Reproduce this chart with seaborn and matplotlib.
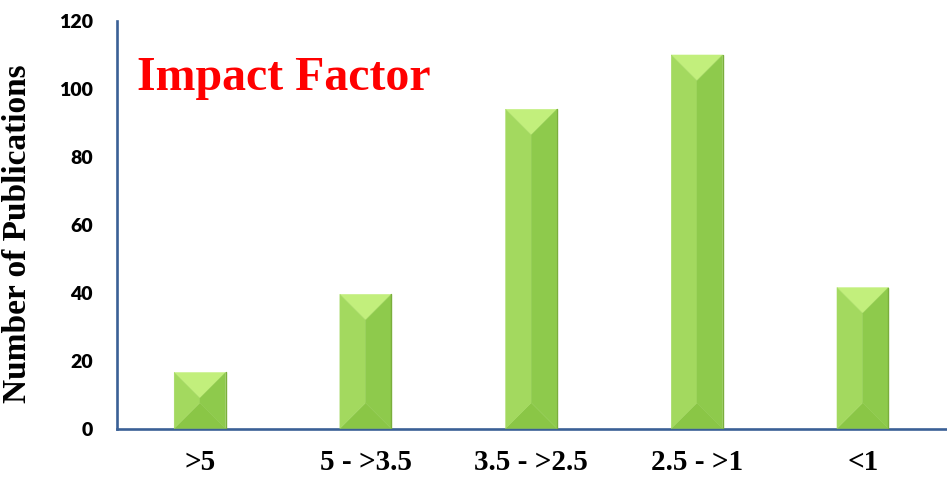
import matplotlib
matplotlib.use("Agg")
import matplotlib.pyplot as plt
from matplotlib.patches import Polygon
import seaborn as sns
import pandas as pd

# Publications grouped by journal impact factor
categories = [">5", "5 - >3.5", "3.5 - >2.5", "2.5 - >1", "<1"]
publications = [16.5, 39.5, 94, 110, 41.5]
y_ticks = [0, 20, 40, 60, 80, 100, 120]

df = pd.DataFrame({"Impact Factor": categories, "Publications": publications})

sns.set_theme(style="white")
plt.rcParams["font.family"] = ["Liberation Serif", "DejaVu Sans"]

fig = plt.figure(figsize=(9.47, 4.78), dpi=100)
ax = fig.add_axes([117 / 947, 1 - 428.5 / 478, (945.5 - 117) / 947, (428.5 - 21) / 478])

sns.barplot(data=df, x="Impact Factor", y="Publications", ax=ax,
            color="#9ED55A", width=0.31, saturation=1)

ax.set_ylim(0, 120)
ax.set_xlim(-0.5, len(categories) - 0.5)
ax.set_yticks(y_ticks)

# Bevelled faces for each bar, built from the bar geometry seaborn produced
top_c, left_c, right_c, bottom_c = "#C2EF7C", "#A3D95F", "#8ECA4C", "#8AC646"
px_per_x = ax.transData.transform((1, 0))[0] - ax.transData.transform((0, 0))[0]
px_per_y = ax.transData.transform((0, 1))[1] - ax.transData.transform((0, 0))[1]
for bar in list(ax.patches):
    x0, y0 = bar.get_x(), bar.get_y()
    w, h = bar.get_width(), bar.get_height()
    bar.set_visible(False)
    x1, y1 = x0 + w, y0 + h
    xm = x0 + w / 2
    d = min((w * px_per_x / 2) / px_per_y, h / 2)
    faces = [
        ([(x0, y1), (x1, y1), (xm, y1 - d)], top_c),
        ([(x0, y0), (x1, y0), (xm, y0 + d)], bottom_c),
        ([(x0, y0), (x0, y1), (xm, y1 - d), (xm, y0 + d)], left_c),
        ([(x1, y0), (x1, y1), (xm, y1 - d), (xm, y0 + d)], right_c),
    ]
    for pts, col in faces:
        ax.add_patch(Polygon(pts, closed=True, facecolor=col, edgecolor=col,
                             linewidth=0.3, zorder=3))
    ax.plot([x1, x1], [y0, y1], color="#7AAE3C", lw=1.0, zorder=4)

# Axes styling
spine_c = "#3A6096"
for side in ("top", "right"):
    ax.spines[side].set_visible(False)
for side in ("left", "bottom"):
    ax.spines[side].set_color(spine_c)
    ax.spines[side].set_linewidth(1.9)
ax.tick_params(axis="both", length=0)
ax.tick_params(axis="y", pad=17.5)
ax.tick_params(axis="x", pad=15)

for lbl in ax.get_yticklabels():
    lbl.set_fontfamily(["Lato", "DejaVu Sans"])
    lbl.set_fontweight("heavy")
    lbl.set_fontsize(14)
    lbl.set_color("black")
for lbl in ax.get_xticklabels():
    lbl.set_fontfamily(["Liberation Serif", "DejaVu Sans"])
    lbl.set_fontweight("bold")
    lbl.set_fontsize(21)
    lbl.set_color("black")

ax.set_xlabel("")
ax.set_ylabel("Number of Publications", fontsize=24, fontweight="bold",
              color="black", family=["Liberation Serif", "DejaVu Sans"])
ax.yaxis.set_label_coords(-0.1014, 0.4785)

ax.text(0.024, 0.83, "Impact Factor", transform=ax.transAxes, color="#FF0000",
        fontsize=34.5, fontweight="bold", family=["Liberation Serif", "DejaVu Sans"],
        ha="left", va="baseline")

fig.savefig("out.png", dpi=100)
